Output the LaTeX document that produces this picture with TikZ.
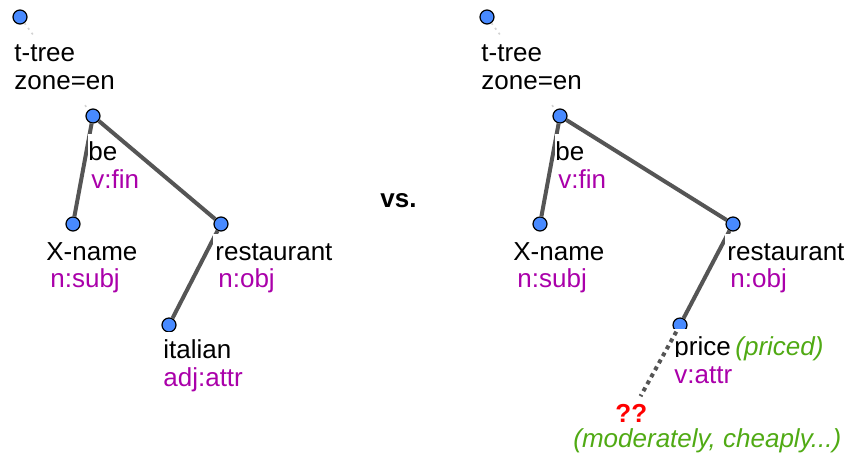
\documentclass[tikz,border=0pt]{standalone}
\usepackage{fontspec}
\setmainfont{Liberation Sans}
\usetikzlibrary{positioning}
\definecolor{dotblue}{RGB}{72,138,255}
\definecolor{edgegray}{RGB}{85,85,85}
\definecolor{tagmag}{RGB}{170,0,170}
\definecolor{notegreen}{RGB}{80,170,20}
\tikzset{
  dot/.style={circle,draw=black,fill=dotblue,line width=0.6pt,minimum size=7pt,inner sep=0pt},
  edge/.style={edgegray,line width=2pt},
  topedge/.style={gray!35,line width=0.8pt,dash pattern=on 1pt off 2pt},
  guess/.style={edgegray,line width=2pt,dash pattern=on 2pt off 2pt},
  word/.style={anchor=base west,fill=white,inner xsep=1pt,inner ysep=3pt,font=\fontsize{13}{14}\selectfont\strut},
  tag/.style={word,text=tagmag},
  note/.style={word,fill=none,inner sep=1pt,text=notegreen,font=\fontsize{13}{14}\selectfont\itshape}
}
\begin{document}
\begin{tikzpicture}[x=0.5pt,y=-0.5pt]
\useasboundingbox (0,0) rectangle (845,456);
% the part both trees share
\foreach \o in {0,467}
{
\node[dot] (root\o) at (\o+20,17) {};
\node[dot] (be\o) at (\o+93,116) {};
\node[dot] (xname\o) at (\o+73,224) {};
\draw[topedge] (root\o) -- (be\o);
\draw[edge] (be\o) -- (xname\o);
\node[word] (tt\o) at (\o+12,61) {t-tree};
\node[word] (zone\o) at (\o+12,89) {zone=en};
\node[word,inner xsep=0pt] (beW\o) at (\o+88,160) {be};
\node[tag] (beT\o) at (\o+89,188) {v:fin};
\node[word] (xnameW\o) at (\o+44,260) {X-name};
\node[tag] (xnameT\o) at (\o+48,287) {n:subj};
}
% left tree
\node[dot] (rest) at (221,224) {};
\node[dot] (ital) at (169,325) {};
\draw[edge] (be0) -- (rest);
\draw[edge] (rest) -- (ital);
\node[word] (restW) at (213,260) {restaurant};
\node[tag] (restT) at (216,287) {n:obj};
\node[word] (italW) at (161,358) {italian};
\node[tag] (italT) at (161,386) {adj:attr};
\node[font=\fontsize{13}{14}\selectfont\bfseries,anchor=base west,inner sep=0pt] (vs) at (380,207) {vs.};
% right tree
\node[dot] (rest2) at (733,224) {};
\node[dot] (price) at (680,325) {};
\node[font=\fontsize{13}{14}\selectfont\bfseries,text=red,anchor=base west,inner sep=1pt] (qq) at (613,422) {??};
\draw[edge] (be467) -- (rest2);
\draw[edge] (rest2) -- (price);
\node[word] (restW2) at (725,260) {restaurant};
\node[tag] (restT2) at (728,287) {n:obj};
\node[word] (priceW) at (672,355) {price};
\node[tag] (priceT) at (672,383) {v:attr};
\node[note] (priced) at (733,355) {(priced)};
\node[note] (adv) at (571,447) {(moderately, cheaply...)};
\draw[guess,shorten >=3pt] (price) -- (qq);
\end{tikzpicture}
\end{document}
